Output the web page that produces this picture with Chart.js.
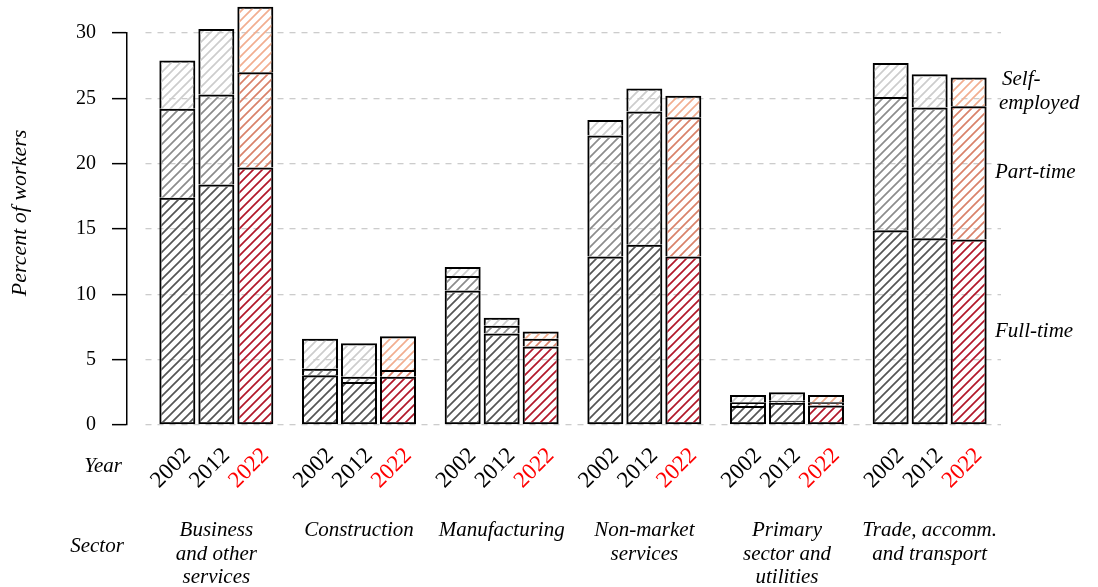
<!DOCTYPE html>
<html><head><meta charset="utf-8">
<script src="https://cdn.jsdelivr.net/npm/chart.js@4.4.0/dist/chart.umd.min.js"></script>
<style>html,body{margin:0;padding:0;background:#fff}</style>
</head><body>
<canvas id="c" width="1098" height="587"></canvas>
<script>
'use strict';

/* ═══════════ DATA ═══════════ */
var sectors=[['Business','and other','services'],'Construction','Manufacturing',['Non-market','services'],['Primary','sector and','utilities'],['Trade, accomm.','and transport']];
var years=['2002','2012','2022'];
var parts=['Full-time','Part-time','Self-employed'];
var ft2002=[17.4,3.8,10.3,12.9,1.45,14.9];
var pt2002=[6.8,0.5,1.1,9.25,0.3,10.2];
var se2002=[3.7,2.3,0.7,1.2,0.55,2.6];
var ft2012=[18.4,3.3,7.0,13.8,1.7,14.3];
var pt2012=[6.9,0.4,0.6,10.2,0.15,10.0];
var se2012=[5.0,2.55,0.6,1.75,0.65,2.55];
var ft2022=[19.7,3.7,6.0,12.9,1.5,14.2];
var pt2022=[7.3,0.5,0.6,10.65,0.25,10.2];
var se2022=[5.0,2.6,0.55,1.65,0.55,2.2];

var SERIF='"Liberation Serif","DejaVu Serif",serif';
var GRAY=['#555555','#8c8c8c','#cdcdcd'],RED=['#b2182b','#d9826a','#f2ae90'];

/* ═══════════ HATCH ═══════════ */
function hatch(col){var s=9,c=document.createElement('canvas');c.width=s;c.height=s;var x=c.getContext('2d');
  x.strokeStyle=col;x.lineWidth=1.7;x.beginPath();
  x.moveTo(-2,2);x.lineTo(2,-2);x.moveTo(0,s);x.lineTo(s,0);x.moveTo(s-2,s+2);x.lineTo(s+2,s-2);x.stroke();
  return x.createPattern(c,'repeat')}

/* bottom segment keeps its base edge, upper ones skip it so borders don't double up */
function mkSet(yr,k,data){var pal=yr==='2022'?RED:GRAY;
  return{label:parts[k]+' '+yr,stack:yr,data:data,backgroundColor:hatch(pal[k]),borderColor:'#000',borderWidth:2,
    borderSkipped:k===0?false:'start',clip:false,categoryPercentage:0.82,barPercentage:0.923}}

var sets=[mkSet('2002',0,ft2002),mkSet('2002',1,pt2002),mkSet('2002',2,se2002),
  mkSet('2012',0,ft2012),mkSet('2012',1,pt2012),mkSet('2012',2,se2012),
  mkSet('2022',0,ft2022),mkSet('2022',1,pt2022),mkSet('2022',2,se2022)];

/* ═══════════ LABELS ═══════════ */
var labelsPlugin={id:'extraLabels',afterDraw:function(ch){var ctx=ch.ctx,ca=ch.chartArea;
  ctx.save();
  /* years under bars */
  ctx.font='23px '+SERIF;ctx.textAlign='right';ctx.textBaseline='middle';
  for(var s=0;s<3;s++){var meta=ch.getDatasetMeta(s*3);
    meta.data.forEach(function(el){ctx.save();ctx.translate(el.x+10,452);ctx.rotate(-Math.PI/4);
      ctx.fillStyle=s===2?'#ff0000':'#000';ctx.fillText(years[s],0,0);ctx.restore()})}
  ctx.fillStyle='#000';ctx.font='italic 21px '+SERIF;ctx.textAlign='center';
  ctx.fillText('Year',103,466);ctx.fillText('Sector',97,546);
  /* y title */
  ctx.save();ctx.translate(20,213);ctx.rotate(-Math.PI/2);ctx.font='italic 22px '+SERIF;ctx.fillText('Percent of workers',0,0);ctx.restore();
  /* right-side part labels at the middle of the last bar's segments */
  ctx.textAlign='left';var lx=ca.right-6;
  var m0=ch.getDatasetMeta(6).data[5],m1=ch.getDatasetMeta(7).data[5],m2=ch.getDatasetMeta(8).data[5];
  ctx.fillText('Full-time',lx,(m0.y+m0.base)/2);
  ctx.fillText('Part-time',lx,(m1.y+m1.base)/2);
  var my=(m2.y+m2.base)/2;ctx.fillText('Self-',lx+7,my-12);ctx.fillText('employed',lx+4,my+12);
  ctx.restore()}};

new Chart(document.getElementById('c'),{type:'bar',
  data:{labels:sectors,datasets:sets},
  options:{responsive:false,animation:false,devicePixelRatio:1,
    layout:{padding:{left:0,top:33,right:97,bottom:0}},
    plugins:{legend:{display:false},tooltip:{enabled:false}},
    scales:{
      x:{type:'category',stacked:true,grid:{display:false},border:{display:false},
        ticks:{color:'#000',font:{family:SERIF,size:21,style:'italic',lineHeight:1.12},padding:86,maxRotation:0,autoSkip:false},
        afterFit:function(s){s.height=162}},
      y:{stacked:true,min:0,max:30,weight:10,position:'left',
        ticks:{stepSize:5,color:'#000',font:{family:SERIF,size:20},padding:16},
        grid:{color:'#cccccc',lineWidth:1.3,tickColor:'#000',tickLength:15,tickWidth:1.5,tickBorderDash:[]},
        border:{display:true,color:'#000',width:1.5,dash:[6,6]},
        afterFit:function(s){s.width=127}},
      gap:{type:'linear',position:'left',weight:0,display:true,ticks:{display:false},grid:{display:false},border:{display:false},
        afterFit:function(s){s.width=18}}
    }},
  plugins:[labelsPlugin]});
</script>
</body></html>
